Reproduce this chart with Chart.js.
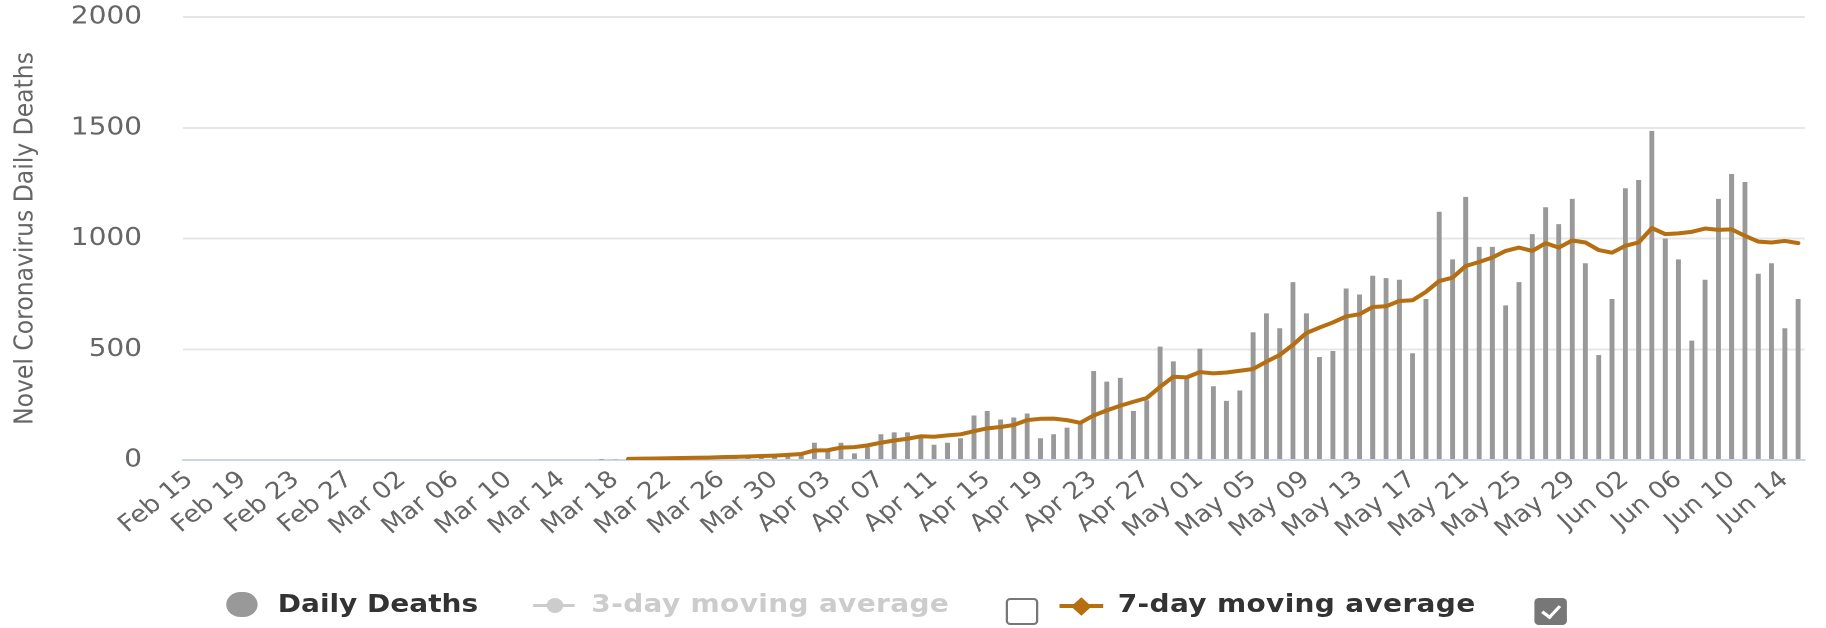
<!DOCTYPE html>
<html>
<head>
<meta charset="utf-8">
<script src="https://cdn.jsdelivr.net/npm/chart.js@4/dist/chart.umd.min.js"></script>
<style>
  html, body { margin:0; padding:0; background:#fff; overflow:hidden; }
  #wrap { position:absolute; left:0; top:0; width:1630.4px; height:628px; transform:scaleX(1.12); transform-origin:0 0; font-family:"DejaVu Sans", sans-serif; }
  #c { position:absolute; left:0; top:0; }
  .lg { position:absolute; box-sizing:border-box; }
  .txt { position:absolute; font-weight:bold; font-size:25px; line-height:30px; white-space:nowrap; }
</style>
</head>
<body>
<div id="wrap">
  <canvas id="c" width="1630" height="628"></canvas>
  <div class="lg" style="left:202px;top:592px;width:28px;height:25px;border-radius:12.5px;background:#999;"></div>
  <div class="txt" style="left:248px;top:589px;color:#333;">Daily Deaths</div>
  <div class="lg" style="left:476px;top:604px;width:37px;height:3px;background:#ccc;"></div>
  <div class="lg" style="left:488px;top:598px;width:15px;height:15px;border-radius:50%;background:#ccc;"></div>
  <div class="txt" style="left:528px;top:589px;color:#ccc;letter-spacing:0.3px;">3-day moving average</div>
  <div class="lg" style="left:898px;top:598px;width:29px;height:27px;border:2px solid #777;border-radius:4px;background:#fff;"></div>
  <div class="lg" id="m7l" style="left:946px;top:604px;width:39px;height:4px;"></div>
  <div class="lg" id="m7d" style="left:958.5px;top:599.5px;width:13px;height:13px;transform:rotate(45deg);"></div>
  <div class="txt" style="left:998px;top:589px;color:#333;letter-spacing:0.3px;">7-day moving average</div>
  <div class="lg" style="left:1370px;top:598px;width:29px;height:27px;border-radius:4px;background:#777;">
    <div style="position:absolute;left:10px;top:4px;width:7px;height:13px;border-right:3.5px solid #fff;border-bottom:3.5px solid #fff;transform:rotate(40deg);"></div>
  </div>
</div>
<script>
const categories = [
  'Feb 15','Feb 16','Feb 17','Feb 18','Feb 19','Feb 20','Feb 21','Feb 22','Feb 23','Feb 24','Feb 25','Feb 26','Feb 27','Feb 28','Feb 29',
  'Mar 01','Mar 02','Mar 03','Mar 04','Mar 05','Mar 06','Mar 07','Mar 08','Mar 09','Mar 10','Mar 11','Mar 12','Mar 13','Mar 14','Mar 15','Mar 16',
  'Mar 17','Mar 18','Mar 19','Mar 20','Mar 21','Mar 22','Mar 23','Mar 24','Mar 25','Mar 26','Mar 27','Mar 28','Mar 29','Mar 30','Mar 31',
  'Apr 01','Apr 02','Apr 03','Apr 04','Apr 05','Apr 06','Apr 07','Apr 08','Apr 09','Apr 10','Apr 11','Apr 12','Apr 13','Apr 14','Apr 15',
  'Apr 16','Apr 17','Apr 18','Apr 19','Apr 20','Apr 21','Apr 22','Apr 23','Apr 24','Apr 25','Apr 26','Apr 27','Apr 28','Apr 29','Apr 30',
  'May 01','May 02','May 03','May 04','May 05','May 06','May 07','May 08','May 09','May 10','May 11','May 12','May 13','May 14','May 15','May 16',
  'May 17','May 18','May 19','May 20','May 21','May 22','May 23','May 24','May 25','May 26','May 27','May 28','May 29','May 30','May 31',
  'Jun 01','Jun 02','Jun 03','Jun 04','Jun 05','Jun 06','Jun 07','Jun 08','Jun 09','Jun 10','Jun 11','Jun 12','Jun 13','Jun 14','Jun 15'
];

const xTickLabels = [
  'Feb 15','Feb 19','Feb 23','Feb 27','Mar 02','Mar 06','Mar 10','Mar 14','Mar 18','Mar 22','Mar 26','Mar 30',
  'Apr 03','Apr 07','Apr 11','Apr 15','Apr 19','Apr 23','Apr 27','May 01','May 05','May 09','May 13','May 17',
  'May 21','May 25','May 29','Jun 02','Jun 06','Jun 10','Jun 14'
];

const yTickLabels = ['0', '500', '1000', '1500', '2000'];

const dailyDeaths = [
  0,0,0,0,0,0,0,0,0,0,0,0,0,0,0,
  0,0,0,0,0,0,0,0,0,0,0,0,0,0,0,0,
  1,3,2,5,4,7,8,9,10,11,9,10,11,14,17,
  22,78,47,78,30,58,116,125,125,104,69,78,98,201,221,
  183,192,210,98,116,146,165,402,354,371,221,270,512,445,376,
  503,333,267,314,577,662,595,803,662,465,492,774,747,832,821,814,
  482,727,1121,906,1188,962,962,698,803,1020,1141,1065,1179,888,474,
  727,1227,1264,1486,1000,906,539,814,1179,1291,1255,841,888,595,727
];

const movingAvg7 = [
  null,null,null,null,null,null,null,null,null,null,null,null,null,null,null,
  null,null,null,null,null,null,null,null,null,null,null,null,null,null,null,null,
  null,null,5,6,7,8,9,10,11,13,14,16,18,20,23,
  27,43,44,56,58,66,78,88,96,107,105,111,116,130,143,
  149,158,180,186,187,180,168,201,224,245,263,280,330,376,373,
  397,391,395,403,411,444,474,520,573,598,621,648,658,691,694,718,
  721,759,808,823,876,894,914,944,959,944,979,959,991,982,948,
  936,967,982,1047,1020,1023,1030,1045,1039,1041,1012,986,982,989,979
];

const LINE_COLOR = '#b56e10';
const FONT = '"DejaVu Sans", sans-serif';
document.getElementById('m7l').style.background = LINE_COLOR;
document.getElementById('m7d').style.background = LINE_COLOR;

new Chart(document.getElementById('c'), {
  type: 'bar',
  data: {
    labels: categories,
    datasets: [
      {
        type: 'line',
        label: '7-day moving average',
        data: movingAvg7,
        borderColor: LINE_COLOR,
        backgroundColor: LINE_COLOR,
        borderWidth: 4,
        borderJoinStyle: 'round',
        borderCapStyle: 'round',
        pointRadius: 0,
        tension: 0,
        fill: false,
        order: 0
      },
      {
        type: 'bar',
        label: 'Daily Deaths',
        data: dailyDeaths,
        backgroundColor: '#999999',
        barPercentage: 0.37,
        categoryPercentage: 1,
        order: 1
      }
    ]
  },
  options: {
    responsive: false,
    animation: false,
    devicePixelRatio: 2,
    layout: { padding: { left: 0, right: 10, top: 17, bottom: 0 } },
    plugins: { legend: { display: false }, tooltip: { enabled: false } },
    scales: {
      x: {
        grid: { display: false, drawTicks: false },
        border: { display: true, color: '#ccd6eb', width: 2 },
        ticks: {
          autoSkip: false,
          minRotation: 41,
          maxRotation: 41,
          padding: 6,
          color: '#666666',
          font: { family: FONT, size: 23.5 },
          callback: (v, i) => xTickLabels.includes(categories[i]) ? categories[i] : ''
        },
        afterFit: s => { s.height = 168; }
      },
      y: {
        min: 0,
        max: 2000,
        ticks: {
          stepSize: 500,
          padding: 0,
          color: '#666666',
          font: { family: FONT, size: 25 },
          callback: v => yTickLabels[Math.round(v / 500)]
        },
        grid: {
          color: c => (c.tick && c.tick.value === 0) ? 'rgba(0,0,0,0)' : '#e6e6e6',
          lineWidth: 2,
          drawTicks: true,
          tickLength: 36.6,
          tickColor: 'rgba(0,0,0,0)'
        },
        border: { display: false },
        title: {
          display: true,
          text: 'Novel Coronavirus Daily Deaths',
          color: '#666666',
          font: { family: FONT, size: 23.5 },
          padding: { top: 9, bottom: 0 }
        },
        afterFit: s => { s.width = 163.4; }
      }
    }
  }
});
</script>
</body>
</html>
